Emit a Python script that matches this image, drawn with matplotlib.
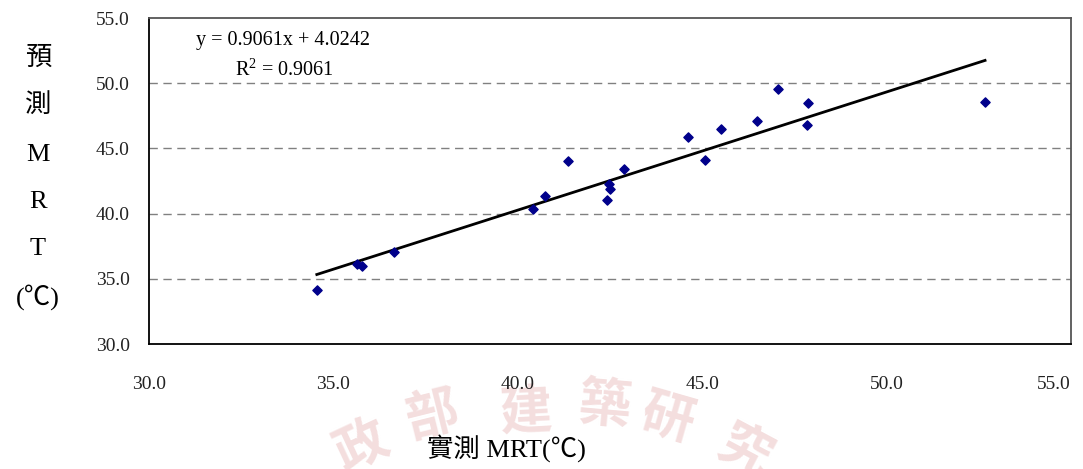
import matplotlib
matplotlib.use("Agg")
import matplotlib.pyplot as plt
import numpy as np

# measured vs. predicted mean radiant temperature (°C)
measured_mrt = [34.55, 35.63, 35.77, 36.63, 40.41, 40.74, 41.35, 42.42, 42.46, 42.51,
                42.87, 44.62, 45.07, 45.52, 46.48, 47.06, 47.85, 47.86, 52.67]
predicted_mrt = [34.17, 36.10, 35.99, 37.04, 40.34, 41.35, 44.00, 41.04, 42.27, 41.89,
                 43.42, 45.89, 44.12, 46.48, 47.12, 49.52, 46.78, 48.47, 48.57]

# regression shown on the chart
slope = 0.9061
intercept = 4.0242
r_squared = 0.9061

x_ticks = [30.0, 35.0, 40.0, 45.0, 50.0, 55.0]
y_ticks = [30.0, 35.0, 40.0, 45.0, 50.0, 55.0]

SERIF = ["Liberation Serif", "Noto Sans CJK TC", "DejaVu Serif"]
plt.rcParams["font.family"] = SERIF
plt.rcParams["mathtext.fontset"] = "custom"
plt.rcParams["mathtext.rm"] = "Liberation Serif"
plt.rcParams["mathtext.it"] = "Liberation Serif:italic"

fig = plt.figure(figsize=(10.83, 4.69), dpi=100)
ax = fig.add_axes([0.1376, 0.2665, 0.8513, 0.6951])
ax.set_zorder(2)

# faint background stamp
stamp = ["政", "部", "建", "築", "研", "究"]
stamp_x = [362, 432, 526, 604, 668, 744]
stamp_y = [446, 416, 412, 406, 418, 452]
stamp_rot = [25, 14, 3, -5, -16, -28]
for ch, px, py, rot in zip(stamp, stamp_x, stamp_y, stamp_rot):
    fig.text(px / 1083, 1 - py / 469, ch, fontsize=38, color="#f4dede",
             family=["Noto Sans CJK TC"], fontweight="bold", rotation=rot,
             ha="center", va="center", zorder=-1)

ax.set_xlim(30, 55)
ax.set_ylim(30, 55)
ax.set_xticks(x_ticks)
ax.set_yticks(y_ticks)
ax.set_xticklabels([f"{t:.1f}" for t in x_ticks])
ax.set_yticklabels([f"{t:.1f}" for t in y_ticks])
ax.tick_params(length=0, labelsize=14, colors="#222222")
ax.tick_params(axis="y", pad=14)
ax.tick_params(axis="x", pad=23)
ax.get_xticklabels()[-1].set_horizontalalignment("right")

for y in y_ticks[1:-1]:
    ax.axhline(y, color="#808080", lw=1.0, ls=(0, (6, 4)), zorder=1)

for side in ["left", "bottom"]:
    ax.spines[side].set_color("black")
    ax.spines[side].set_linewidth(1.3)
for side in ["top", "right"]:
    ax.spines[side].set_color("#555555")
    ax.spines[side].set_linewidth(1.3)
ax.patch.set_alpha(0)

ax.scatter(measured_mrt, predicted_mrt, marker="D", s=22, color="#00008b",
           edgecolors="#00008b", zorder=3)

xl = np.array([min(measured_mrt), max(measured_mrt)])
ax.plot(xl, slope * xl + intercept, color="black", lw=2.0, zorder=2)

fig.text(283 / 1083, 1 - 40 / 469, f"y = {slope:.4f}x + {intercept:.4f}",
         fontsize=14.5, ha="center", va="center", zorder=3)
fig.text(284 / 1083, 1 - 70 / 469, f"R$^{{2}}$ = {r_squared:.4f}",
         fontsize=14.5, ha="center", va="center", zorder=3)

# stacked vertical y label
ylabel_parts = ["預", "測", "M", "R", "T", "(℃)"]
ylabel_y = [58, 105, 155, 202, 249, 297]
for part, py in zip(ylabel_parts, ylabel_y):
    fig.text(38 / 1083, 1 - py / 469, part, fontsize=19, ha="center", va="center",
             family=SERIF, zorder=3)

fig.text(506 / 1083, 1 - 448 / 469, "實測 MRT(℃)", fontsize=19, ha="center",
         va="center", family=SERIF, zorder=3)

fig.savefig("out.png", dpi=100)
